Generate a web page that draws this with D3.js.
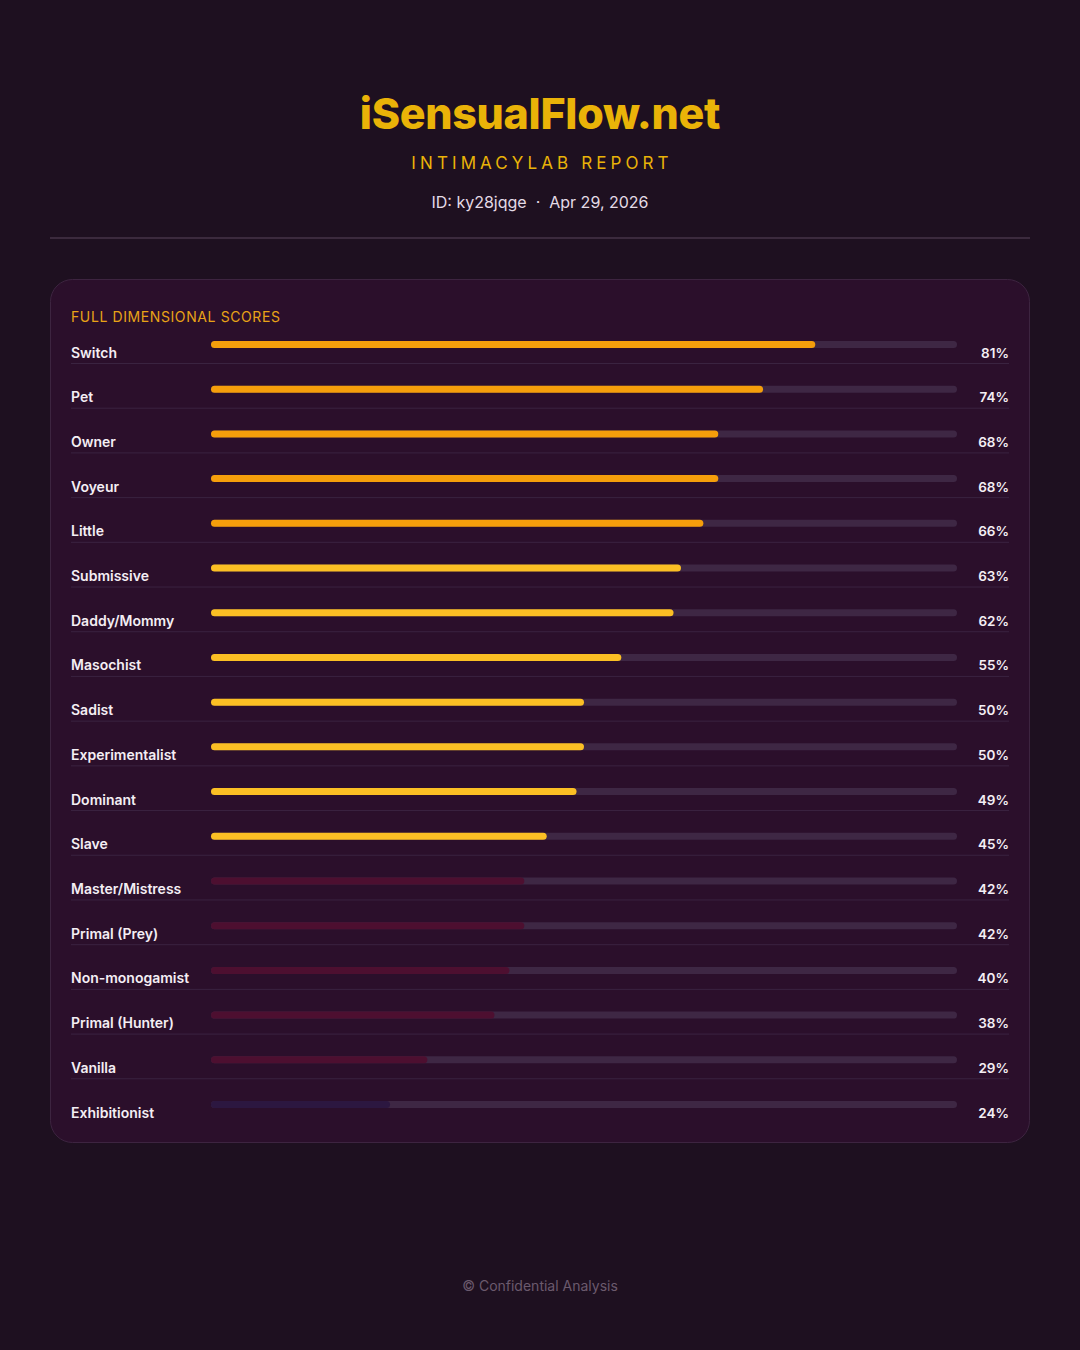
<!DOCTYPE html>
<html>
<head>
<meta charset="utf-8">
<script src="https://cdn.jsdelivr.net/npm/d3@7"></script>
<style>
  html, body { margin: 0; padding: 0; background: #1e1020; }
  svg { display: block; }
</style>
</head>
<body>
<div id="chart"></div>
<script>
// Dimension names and scores (percent)
const dimensions = ['Switch', 'Pet', 'Owner', 'Voyeur', 'Little', 'Submissive', 'Daddy/Mommy',
  'Masochist', 'Sadist', 'Experimentalist', 'Dominant', 'Slave', 'Master/Mistress',
  'Primal (Prey)', 'Non-monogamist', 'Primal (Hunter)', 'Vanilla', 'Exhibitionist']
const scores = [81, 74, 68, 68, 66, 63, 62, 55, 50, 50, 49, 45, 42, 42, 40, 38, 29, 24]

// score bands -> bar colour
const bandLimits = [25, 45, 65]
const bandColors = ['#2c1740', '#4d0f30', '#fbbf24', '#f59e0b']

const W = 1080, H = 1350
const svg = d3.select('#chart').append('svg')
  .attr('width', W).attr('height', H)
  .style('font-family', 'Inter, "Noto Sans", sans-serif')

svg.append('rect').attr('width', W).attr('height', H).attr('fill', '#1e1020')

// Header
svg.append('text')
  .attr('x', W/2).attr('y', 129)
  .attr('text-anchor', 'middle')
  .style('font-size', '43px').style('font-weight', 800)
  .style('letter-spacing', '-0.3px')
  .attr('fill', '#eab308')
  .text('iSensualFlow.net')

svg.append('text')
  .attr('x', W/2 + 2).attr('y', 169)
  .attr('text-anchor', 'middle')
  .style('font-size', '17px').style('font-weight', 400)
  .style('letter-spacing', '4.1px')
  .attr('fill', '#eab308')
  .text('INTIMACYLAB REPORT')

svg.append('text')
  .attr('x', W/2).attr('y', 208)
  .attr('text-anchor', 'middle')
  .style('font-size', '16px')
  .attr('fill', '#e4dbe6')
  .text('ID: ky28jqge  ·  Apr 29, 2026')
  .attr('xml:space', 'preserve')

svg.append('line')
  .attr('x1', 50).attr('x2', 1030).attr('y1', 238).attr('y2', 238)
  .attr('stroke', '#3b2a3d').attr('stroke-width', 2)

// Card
svg.append('rect')
  .attr('x', 50.5).attr('y', 279.5).attr('width', 979).attr('height', 863)
  .attr('rx', 22)
  .attr('fill', '#2b0f2b')
  .attr('stroke', '#3d2440').attr('stroke-width', 1)

svg.append('text')
  .attr('x', 71).attr('y', 322)
  .style('font-size', '14px').style('letter-spacing', '0.6px')
  .attr('fill', '#e8a317')
  .text('FULL DIMENSIONAL SCORES')

// Scales
const x = d3.scaleLinear().domain([0, 100]).range([211, 957])
const y = d3.scalePoint().domain(dimensions).range([344.5, 1104.5])
const color = d3.scaleThreshold().domain(bandLimits).range(bandColors)
const barH = 7

const rows = svg.append('g').selectAll('g')
  .data(dimensions.map((d, i) => ({ name: d, score: scores[i] })))
  .join('g')

// row separators
rows.filter((d, i) => i < dimensions.length - 1)
  .append('line')
  .attr('x1', 71).attr('x2', 1009)
  .attr('y1', d => y(d.name) + 19).attr('y2', d => y(d.name) + 19)
  .attr('stroke', '#3a2340').attr('stroke-width', 1)

// track
rows.append('rect')
  .attr('x', x(0)).attr('width', x(100) - x(0))
  .attr('y', d => y(d.name) - barH/2).attr('height', barH)
  .attr('rx', barH/2)
  .attr('fill', '#3e2744')

// fill
rows.append('rect')
  .attr('x', x(0)).attr('width', d => x(d.score) - x(0))
  .attr('y', d => y(d.name) - barH/2).attr('height', barH)
  .attr('rx', barH/2)
  .attr('fill', d => color(d.score))

rows.append('text')
  .attr('x', 71).attr('y', d => y(d.name) + 13)
  .style('font-size', '14px').style('font-weight', 600)
  .attr('fill', '#f4eef4')
  .text(d => d.name)

rows.append('text')
  .attr('x', 1009).attr('y', d => y(d.name) + 13)
  .attr('text-anchor', 'end')
  .style('font-size', '13.5px').style('font-weight', 600)
  .attr('fill', '#f4eef4')
  .text(d => d.score + '%')

// Footer
svg.append('text')
  .attr('x', W/2).attr('y', 1291)
  .attr('text-anchor', 'middle')
  .style('font-size', '14px')
  .attr('fill', '#6b5a6d')
  .text('© Confidential Analysis')
</script>
</body>
</html>
